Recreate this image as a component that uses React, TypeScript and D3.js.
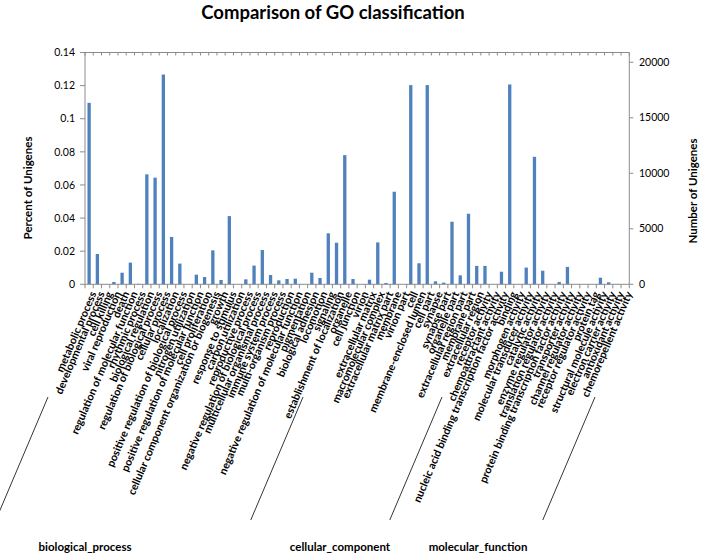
import React from "react";
import * as d3 from "d3";

const bpTerms = [
  "metabolic process", "developmental process", "cell killing", "viral reproduction", "death",
  "regulation of molecular function", "rhythmic process", "biological regulation",
  "regulation of biological process", "cellular process", "localization",
  "positive regulation of biological process", "nitrogen utilization",
  "positive regulation of molecular function", "cell proliferation",
  "cellular component organization or biogenesis", "growth", "response to stimulus",
  "carbon utilization", "reproductive process", "negative regulation of biological process",
  "multicellular organismal process", "immune system process", "multi-organism process",
  "reproduction", "negative regulation of molecular function", "pigmentation",
  "biological adhesion", "locomotion", "signaling", "establishment of localization",
];
const bpPercent = [
  0.1096, 0.0183, 0.0001, 0.0014, 0.007, 0.0131, 0.0003, 0.0664, 0.0644, 0.1267, 0.0286,
  0.0125, 0.0, 0.0058, 0.0044, 0.0205, 0.0026, 0.0412, 0.0, 0.003, 0.0113, 0.0207, 0.0056,
  0.0024, 0.0032, 0.0034, 0.0, 0.007, 0.0038, 0.0308, 0.0251,
];

const ccTerms = [
  "organelle", "cell junction", "virion", "extracellular matrix", "macromolecular complex",
  "extracellular matrix part", "membrane", "virion part", "cell", "membrane-enclosed lumen",
  "cell part", "synapse", "synapse part", "organelle part", "extracellular region part",
  "membrane part", "extracellular region",
];
const ccPercent = [
  0.078, 0.0032, 0.0, 0.0028, 0.0253, 0.0008, 0.0559, 0.0, 0.1203, 0.0127, 0.1203, 0.0018,
  0.001, 0.0378, 0.0054, 0.0426, 0.0111,
];

const mfTerms = [
  "receptor activity", "chemoattractant activity",
  "nucleic acid binding transcription factor activity", "binding", "morphogen activity",
  "molecular transducer activity", "catalytic activity", "enzyme regulator activity",
  "translation regulator activity", "protein binding transcription factor activity",
  "transporter activity", "channel regulator activity", "receptor regulator activity",
  "protein tag", "structural molecule activity", "electron carrier activity",
  "antioxidant activity", "chemorepellent activity",
];
const mfPercent = [
  0.0111, 0.0, 0.0076, 0.1207, 0.0, 0.0101, 0.077, 0.0082, 0.0, 0.0014, 0.0105, 0.0, 0.0,
  0.0, 0.004, 0.0012, 0.0002, 0.0,
];

const groupNames = ["biological_process", "cellular_component", "molecular_function"];
const leftTicks = [0, 0.02, 0.04, 0.06, 0.08, 0.1, 0.12, 0.14];
const rightTicks = [0, 5000, 10000, 15000, 20000];

const FONT = "Lato, 'Open Sans', sans-serif";
const AXIS = "#8c8c8c";
const BAR = "#4F81BD";

export default function App() {
  const W = 701, H = 554;
  const left = 85, right = 629.3, top = 52.5, bottom = 284.3;
  const terms = [...bpTerms, ...ccTerms, ...mfTerms];
  const values = [...bpPercent, ...ccPercent, ...mfPercent];

  const x = d3.scaleBand<number>()
    .domain(d3.range(terms.length))
    .range([left, right])
    .paddingInner(0.6)
    .paddingOuter(0.3);
  const step = x.step();
  const bandStart = (i: number) => left + i * step;
  const yL = d3.scaleLinear().domain([0, 0.14]).range([bottom, top]);
  const yR = d3.scaleLinear().domain([0, 20000]).range([bottom, 62.3]);

  const angle = -67;
  const labelY = 292;

  const boundaries = [0, bpTerms.length, bpTerms.length + ccTerms.length, terms.length];
  const divTopX = [48, 303, 442, 595];
  const rad = (Math.abs(angle) * Math.PI) / 180;

  const groupCenters = [85, 340, 478];

  return (
    <svg width={W} height={H} style={{ position: "absolute", left: 0, top: 0, background: "#fff" }}
      fontFamily={FONT}>
      <rect width={W} height={H} fill="#fff" />
      <text x={333} y={19} textAnchor="middle" fontSize={18.5} fontWeight="bold">
        Comparison of GO classification
      </text>

      {values.map((v, i) => (
        <rect key={i} x={x(i)} y={yL(v)} width={x.bandwidth()} height={bottom - yL(v)} fill={BAR} />
      ))}

      <line x1={left} x2={left} y1={top} y2={bottom} stroke={AXIS} strokeWidth={1} />
      {leftTicks.map((t) => (
        <g key={t}>
          <line x1={left - 5} x2={left} y1={yL(t)} y2={yL(t)} stroke={AXIS} />
          <text x={75} y={yL(t)} dy="0.35em" textAnchor="end" fontSize={10.5}>{String(t)}</text>
        </g>
      ))}
      <text transform={`translate(32,188) rotate(-90)`} textAnchor="middle" fontSize={11.5} fontWeight="bold">
        Percent of Unigenes
      </text>

      <line x1={right} x2={right} y1={top} y2={bottom} stroke={AXIS} />
      {rightTicks.map((t) => (
        <g key={t}>
          <line x1={right} x2={right + 4} y1={yR(t)} y2={yR(t)} stroke={AXIS} />
          <text x={639} y={yR(t)} dy="0.35em" textAnchor="start" fontSize={10.5}>{String(t)}</text>
        </g>
      ))}
      <text transform={`translate(693,191) rotate(-90)`} textAnchor="middle" fontSize={11.5} fontWeight="bold" dy="0.35em">
        Number of Unigenes
      </text>

      <line x1={left} x2={right} y1={top} y2={top} stroke={AXIS} />
      <line x1={left} x2={right} y1={bottom} y2={bottom} stroke={AXIS} />
      {d3.range(terms.length + 1).map((i) => (
        <g key={i}>
          <line x1={bandStart(i)} x2={bandStart(i)} y1={top} y2={top + 3} stroke={AXIS} />
          <line x1={bandStart(i)} x2={bandStart(i)} y1={bottom} y2={bottom + 4} stroke={AXIS} />
        </g>
      ))}

      {terms.map((t, i) => {
        const cx = (x(i) as number) + x.bandwidth() / 2;
        return (
          <text key={i} transform={`translate(${cx + 4},${labelY}) rotate(${angle})`}
            textAnchor="end" fontSize={10.8} fontWeight="bold" dy="0.35em">
            {t}
          </text>
        );
      })}

      {boundaries.map((b, k) => {
        const x2 = divTopX[k];
        const y2 = 397;
        const x1 = x2 - (520 - y2) / Math.tan(rad);
        return <line key={b} x1={x1} y1={520} x2={x2} y2={y2} stroke="#000" strokeWidth={0.8} />;
      })}

      {groupNames.map((g, k) => (
        <text key={g} x={groupCenters[k]} y={551} textAnchor="middle" fontSize={11.5} fontWeight="bold">
          {g}
        </text>
      ))}
    </svg>
  );
}
